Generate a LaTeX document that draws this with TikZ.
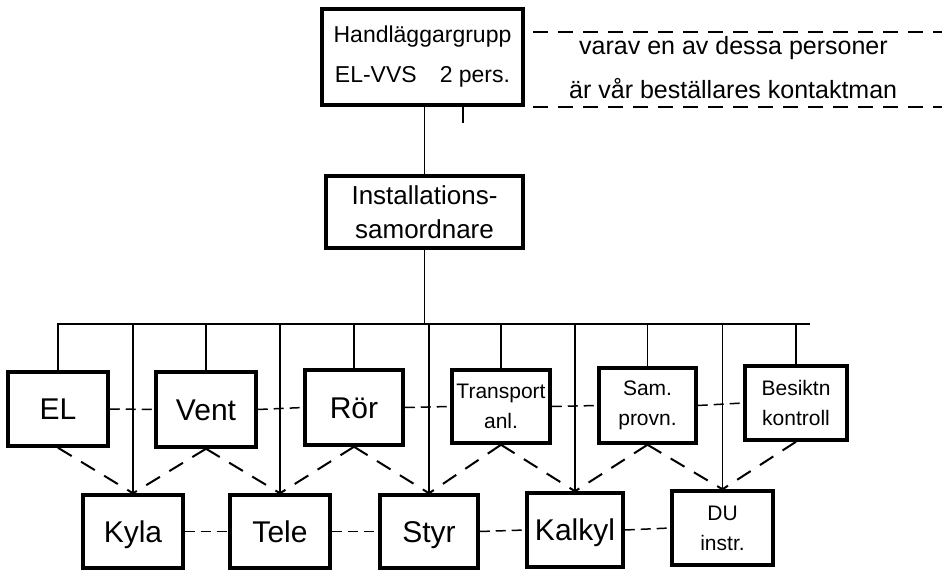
\documentclass[tikz,border=0pt]{standalone}
\usepackage{fontspec}
\setmainfont{Liberation Sans}
\begin{document}
\begin{tikzpicture}[x=1pt,y=-1pt,
  box/.style={draw, line width=3.5pt, inner sep=0pt},
  bigtxt/.style={font=\fontsize{30}{34}\selectfont, text height=28pt, text depth=6.5pt},
  twotxt/.style={align=center, font=\fontsize{21}{30}\selectfont},
  wire/.style={line width=1.4pt},
  link/.style={line width=1.5pt, dash pattern=on 10pt off 6pt},
  diag/.style={line width=2pt, dash pattern=on 16pt off 11pt},
  remdash/.style={line width=2pt, dash pattern=on 15pt off 10pt},
  remtxt/.style={font=\fontsize{25}{30}\selectfont, inner sep=0pt, anchor=base west}]
\useasboundingbox[fill=white] (0,0) rectangle (942,572);

% head group and coordinator
\node[box, align=center, minimum width=201pt, minimum height=96pt,
      font=\fontsize{23}{40}\selectfont] (head) at (422.5,57)
      {Handläggargrupp\\EL-VVS\quad 2 pers.};
\node[box, align=center, minimum width=197pt, minimum height=72pt,
      font=\fontsize{26}{34}\selectfont] (inst) at (424.5,212)
      {Installations-\\samordnare};

% upper row of disciplines
\node[box, bigtxt, minimum width=100pt, minimum height=74pt] (el)    at (58,409)    {EL};
\node[box, bigtxt, minimum width=100pt, minimum height=75pt] (vent)  at (206,409.5) {Vent};
\node[box, bigtxt, minimum width=98pt,  minimum height=75pt] (ror)   at (354,407.5) {Rör};
\node[box, twotxt, minimum width=98pt,  minimum height=73pt] (trans) at (501,406.5) {Transport\\anl.};
\node[box, twotxt, minimum width=97pt,  minimum height=75pt] (sam)   at (647.5,405.5) {Sam.\\provn.};
\node[box, twotxt, minimum width=102pt, minimum height=74pt] (bes)   at (796,403)   {Besiktn\\kontroll};

% lower row of disciplines
\node[box, bigtxt, minimum width=100pt, minimum height=73pt] (kyla)  at (133,531.5) {Kyla};
\node[box, bigtxt, minimum width=100pt, minimum height=73pt] (tele)  at (280,531.5) {Tele};
\node[box, bigtxt, minimum width=98pt,  minimum height=73pt] (styr)  at (429,531.5) {Styr};
\node[box, bigtxt, minimum width=96pt,  minimum height=74pt] (kalk)  at (575,530)   {Kalkyl};
\node[box, twotxt, minimum width=101pt, minimum height=74pt] (du)    at (722.5,528) {DU\\instr.};

% remark beside the head group
\node[remtxt] (rem1) at (579,55)  {varav en av dessa personer};
\node[remtxt] (rem2) at (569,99)  {är vår beställares kontaktman};
\coordinate (r1a) at (533,32);  \coordinate (r1b) at (942,32);
\coordinate (r2a) at (533,107); \coordinate (r2b) at (942,107);
\draw[remdash] (r1a) -- (r1b);
\draw[remdash] (r2a) -- (r2b);

% solid tree
\coordinate (busL) at (57,324);
\coordinate (busR) at (810,324);
\coordinate (tick) at (463,104);
\coordinate (tickend) at (463,123);
\draw[wire] (inst.north) -- (inst.north |- head.south);
\draw[wire] (tick) -- (tickend);
\draw[wire] (inst.south) -- (inst.south |- busL);
\draw[wire] (busL) -- (busR);
\foreach \n in {el,vent,ror,trans,sam,bes,kyla,tele,styr,kalk,du}
  \draw[wire] (\n.north) -- (\n.north |- busL);

% dashed side links
\draw[link] (el.east) -- (vent.west);
\draw[link] (vent.east) -- (ror.west);
\draw[link] (ror.east) -- (trans.west);
\draw[link] (trans.east) -- (sam.west);
\draw[link] (sam.east) -- (bes.west);
\draw[link] (kyla.east) -- (tele.west);
\draw[link] (tele.east) -- (styr.west);
\draw[link] (styr.east) -- (kalk.west);
\draw[link] (kalk.east) -- (du.west);

% dashed cross links between the rows
\draw[diag] (el.south) -- (kyla.north);
\draw[diag] (vent.south) -- (kyla.north);
\draw[diag] (vent.south) -- (tele.north);
\draw[diag] (ror.south) -- (tele.north);
\draw[diag] (ror.south) -- (styr.north);
\draw[diag] (trans.south) -- (styr.north);
\draw[diag] (trans.south) -- (kalk.north);
\draw[diag] (sam.south) -- (kalk.north);
\draw[diag] (sam.south) -- (du.north);
\draw[diag] (bes.south) -- (du.north);
\end{tikzpicture}
\end{document}
